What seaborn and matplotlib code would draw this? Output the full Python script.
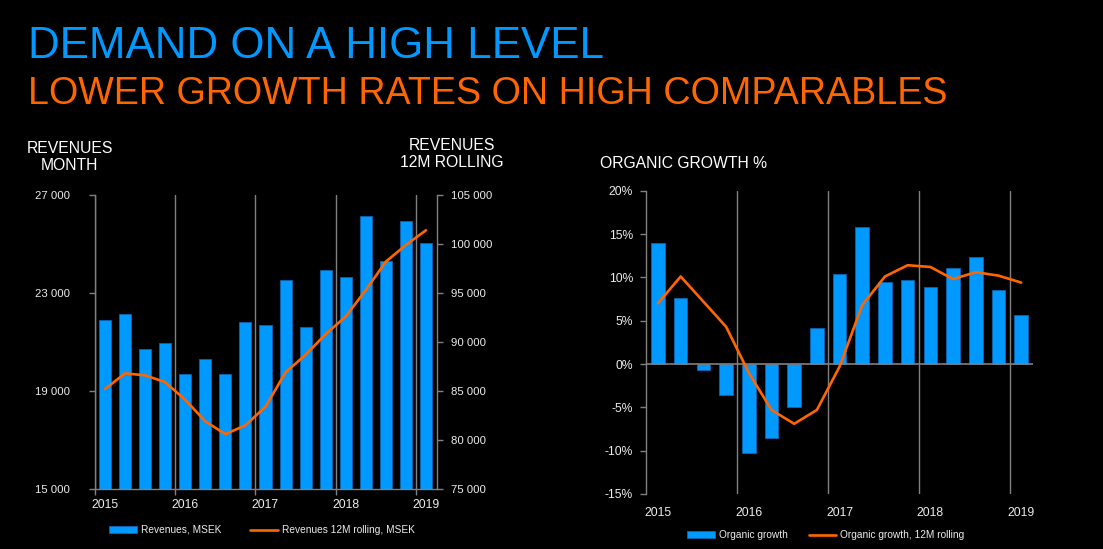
import numpy as np
import pandas as pd
import matplotlib
matplotlib.use("Agg")
import matplotlib.pyplot as plt
from matplotlib.ticker import FixedLocator, FixedFormatter, FuncFormatter, NullFormatter
import seaborn as sns

# ---------------- data ----------------
quarters = ["Q1 2015", "Q2 2015", "Q3 2015", "Q4 2015",
            "Q1 2016", "Q2 2016", "Q3 2016", "Q4 2016",
            "Q1 2017", "Q2 2017", "Q3 2017", "Q4 2017",
            "Q1 2018", "Q2 2018", "Q3 2018", "Q4 2018",
            "Q1 2019"]
year_labels = ["2015", "2016", "2017", "2018", "2019"]

revenues_month = [21900, 22150, 20700, 20950, 19700, 20300, 19700, 21800,
                  21700, 23550, 21600, 23950, 23650, 26150, 24300, 25950, 25050]
revenues_12m = [85200, 86800, 86600, 85900, 84100, 81900, 80600, 81500,
                83400, 86900, 88700, 90800, 92600, 95300, 98200, 99900, 101400]

organic_growth = [14.0, 7.6, -0.7, -3.6, -10.3, -8.5, -5.0, 4.1,
                  10.4, 15.8, 9.5, 9.7, 8.9, 11.1, 12.4, 8.5, 5.7]
organic_growth_12m = [7.0, 10.1, 7.2, 4.3, -1.0, -5.3, -6.9, -5.3,
                      -0.3, 6.8, 10.1, 11.4, 11.2, 9.8, 10.6, 10.2, 9.4]

left_yticks = [15000, 19000, 23000, 27000]
right_yticks = [75000, 80000, 85000, 90000, 95000, 100000, 105000]
growth_yticks = [-15, -10, -5, 0, 5, 10, 15, 20]

df = pd.DataFrame({
    "quarter": quarters,
    "pos": np.arange(len(quarters)),
    "rev": revenues_month,
    "rev12": revenues_12m,
    "og": organic_growth,
    "og12": organic_growth_12m,
})

# ---------------- style ----------------
sns.set_style("dark")
plt.rcParams["font.family"] = ["Liberation Sans", "DejaVu Sans"]
BLUE = "#0099FF"
ORANGE = "#FF6600"
GREY = "#808080"
TXT = "#EDEDED"
BG = "black"

fig = plt.figure(figsize=(11.03, 5.49), dpi=100, facecolor=BG)
W, H = 1103.0, 549.0

ax1 = fig.add_axes([95 / W, 1 - 489 / H, (437 - 95) / W, (489 - 195) / H])
ax3 = fig.add_axes([645.5 / W, 1 - 494 / H, (1032.5 - 645.5) / W, (494 - 190.7) / H])

for ax in (ax1, ax3):
    ax.set_facecolor(BG)

boundaries = [i - 0.5 for i in range(0, len(quarters), 4)]
label_pos = list(range(0, len(quarters), 4))

# ---------------- left chart ----------------
sns.barplot(data=df, x="pos", y="rev", native_scale=True, width=0.6,
            color=BLUE, edgecolor="#0a64b4", linewidth=0.6, errorbar=None,
            saturation=1, ax=ax1, label="Revenues, MSEK")
ax2 = ax1.twinx()
sns.lineplot(data=df, x="pos", y="rev12", ax=ax2, color=ORANGE, linewidth=1.9,
             label="Revenues 12M rolling, MSEK")

ax1.set_xlim(-0.5, 16.55)
ax1.set_ylim(15000, 27000)
ax2.set_ylim(75000, 105000)
ax1.set_xlabel("")
ax1.set_ylabel("")
ax2.set_xlabel("")
ax2.set_ylabel("")

thousands = FuncFormatter(lambda v, p: f"{int(round(v)):,}".replace(",", " "))
ax1.yaxis.set_major_locator(FixedLocator(left_yticks))
ax1.yaxis.set_major_formatter(thousands)
ax2.yaxis.set_major_locator(FixedLocator(right_yticks))
ax2.yaxis.set_major_formatter(thousands)

ax1.xaxis.set_major_locator(FixedLocator(boundaries))
ax1.xaxis.set_major_formatter(NullFormatter())
ax1.xaxis.set_minor_locator(FixedLocator(label_pos))
ax1.xaxis.set_minor_formatter(FixedFormatter(year_labels))
ax1.grid(False)
ax1.grid(axis="x", which="major", color=GREY, linewidth=1.0)
ax1.set_axisbelow(True)
ax2.grid(False)

ax1.tick_params(axis="y", which="major", direction="out", length=4, width=1,
                color=GREY, labelcolor=TXT, labelsize=8.2, pad=14, left=True)
ax2.tick_params(axis="y", which="major", direction="out", length=4, width=1,
                color=GREY, labelcolor=TXT, labelsize=8.2, pad=6, right=True)
ax1.tick_params(axis="x", which="major", direction="out", length=4, width=1,
                color=GREY, bottom=True)
ax1.tick_params(axis="x", which="minor", length=0, labelcolor=TXT,
                labelsize=8.7, pad=7, bottom=True)

for s in ("top", "right"):
    ax1.spines[s].set_visible(False)
for s in ("left", "bottom"):
    ax1.spines[s].set_visible(True)
    ax1.spines[s].set_color(GREY)
    ax1.spines[s].set_linewidth(1)
for s in ("top", "left", "bottom"):
    ax2.spines[s].set_visible(False)
ax2.spines["right"].set_visible(True)
ax2.spines["right"].set_color(GREY)
ax2.spines["right"].set_linewidth(1)

h1, l1 = ax1.get_legend_handles_labels()
h2, l2 = ax2.get_legend_handles_labels()
for a in (ax1, ax2):
    if a.get_legend() is not None:
        a.get_legend().remove()

fig.legend(h1 + h2, l1 + l2, loc="center", bbox_to_anchor=(262 / W, 1 - 530 / H),
           ncol=2, frameon=False, fontsize=7.3, labelcolor=TXT,
           handlelength=2.7, handleheight=0.6, handletextpad=0.4,
           columnspacing=2.9, borderpad=0)

# ---------------- right chart ----------------
sns.barplot(data=df, x="pos", y="og", native_scale=True, width=0.6,
            color=BLUE, edgecolor="#0a64b4", linewidth=0.6, errorbar=None,
            saturation=1, ax=ax3, label="Organic growth")
sns.lineplot(data=df, x="pos", y="og12", ax=ax3, color=ORANGE, linewidth=1.9,
             label="Organic growth, 12M rolling", zorder=5)
ax3.axhline(0, color=GREY, linewidth=1.2, zorder=4)

ax3.set_xlim(-0.55, 16.5)
ax3.set_ylim(-15, 20)
ax3.set_xlabel("")
ax3.set_ylabel("")
ax3.yaxis.set_major_locator(FixedLocator(growth_yticks))
ax3.yaxis.set_major_formatter(FuncFormatter(lambda v, p: f"{int(round(v))}%"))
ax3.xaxis.set_major_locator(FixedLocator(boundaries[1:]))
ax3.xaxis.set_major_formatter(NullFormatter())
ax3.xaxis.set_minor_locator(FixedLocator(label_pos))
ax3.xaxis.set_minor_formatter(FixedFormatter(year_labels))
ax3.grid(False)
ax3.grid(axis="x", which="major", color=GREY, linewidth=1.0)
ax3.set_axisbelow(True)

ax3.tick_params(axis="y", which="major", direction="out", length=4, width=1,
                color=GREY, labelcolor=TXT, labelsize=8.7, pad=5, left=True)
ax3.tick_params(axis="x", which="major", length=0, bottom=True)
ax3.tick_params(axis="x", which="minor", length=0, labelcolor=TXT,
                labelsize=8.7, pad=9, bottom=True)
for s in ("top", "right", "bottom"):
    ax3.spines[s].set_visible(False)
ax3.spines["left"].set_visible(True)
ax3.spines["left"].set_color(GREY)
ax3.spines["left"].set_linewidth(1)

h3, l3 = ax3.get_legend_handles_labels()
if ax3.get_legend() is not None:
    ax3.get_legend().remove()
order = [l3.index("Organic growth"), l3.index("Organic growth, 12M rolling")]
fig.legend([h3[i] for i in order], [l3[i] for i in order], loc="center",
           bbox_to_anchor=(826 / W, 1 - 535 / H),
           ncol=2, frameon=False, fontsize=7.3, labelcolor=TXT,
           handlelength=2.7, handleheight=0.6, handletextpad=0.4,
           columnspacing=2.1, borderpad=0)

# ---------------- texts ----------------
fig.text(28 / W, 1 - 57.5 / H, "DEMAND ON A HIGH LEVEL", color=BLUE,
         fontsize=31.6, ha="left", va="baseline")
fig.text(28 / W, 1 - 104 / H, "LOWER GROWTH RATES ON HIGH COMPARABLES",
         color=ORANGE, fontsize=27.1, ha="left", va="baseline")

fig.text(69.5 / W, 1 - 141 / H, "REVENUES\nMONTH", color="white", fontsize=11.3,
         ha="center", va="top", multialignment="center", linespacing=1.15)
fig.text(452 / W, 1 - 138 / H, "REVENUES\n12M ROLLING", color="white",
         fontsize=11.3, ha="center", va="top", multialignment="center",
         linespacing=1.15)
fig.text(600 / W, 1 - 156 / H, "ORGANIC GROWTH %", color="white", fontsize=11.3,
         ha="left", va="top")

fig.savefig("out.png", dpi=100, facecolor=BG)
